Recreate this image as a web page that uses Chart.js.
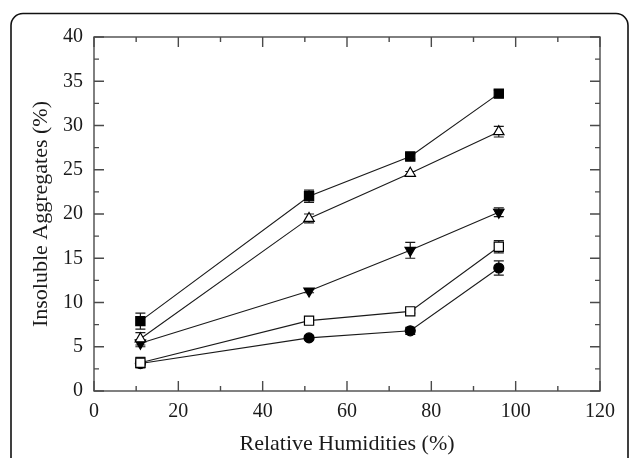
<!DOCTYPE html>
<html>
<head>
<meta charset="utf-8">
<script src="https://cdn.jsdelivr.net/npm/chart.js@4/dist/chart.umd.min.js"></script>
<style>
  html, body { margin: 0; padding: 0; background: #fff; }
  #wrap { width: 630px; height: 458px; position: relative; }
</style>
</head>
<body>
<div id="wrap"><canvas id="chart" width="630" height="458"></canvas></div>
<script>
// Humidités relatives (axe x)
const humidity = [11, 51, 75, 96];

// Séries (valeurs en %) et barres d'erreur
const squareFilled = [7.9, 22.0, 26.5, 33.6];
const squareFilledErr = [0.9, 0.7, 0.3, 0.4];
const triangleOpen = [5.9, 19.5, 24.6, 29.3];
const triangleOpenErr = [0.7, 0.5, 0.2, 0.6];
const triangleDownFilled = [5.4, 11.3, 15.9, 20.2];
const triangleDownFilledErr = [0.4, 0.2, 0.9, 0.5];
const squareOpen = [3.2, 7.95, 9.0, 16.3];
const squareOpenErr = [0.6, 0.2, 0.2, 0.7];
const circleFilled = [3.1, 6.0, 6.8, 13.9];
const circleFilledErr = [0.4, 0.2, 0.4, 0.8];

const xTitle = 'Relative Humidities (%)';
const yTitle = 'Insoluble Aggregates (%)';

const ink = '#1a1a1a';
const axisInk = '#4a4a4a';
const font = 'Liberation Serif';

const toPoints = (ys) => humidity.map((x, i) => ({ x, y: ys[i] }));

const makeSet = (ys, errs, style, filled, radius, rotation) => ({
  data: toPoints(ys),
  errors: errs,
  showLine: true,
  tension: 0,
  borderColor: ink,
  borderWidth: 1.1,
  pointStyle: style,
  pointRotation: rotation || 0,
  pointRadius: radius,
  pointHoverRadius: radius,
  pointBackgroundColor: filled ? '#000' : '#fff',
  pointBorderColor: '#000',
  pointBorderWidth: 1.2
});

// Barres d'erreur dessinées sous les marqueurs
const errorBars = {
  id: 'errorBars',
  beforeDatasetsDraw(chart) {
    const { ctx, scales: { x, y } } = chart;
    ctx.save();
    ctx.strokeStyle = ink;
    ctx.lineWidth = 1.2;
    chart.data.datasets.forEach((ds) => {
      ds.data.forEach((p, i) => {
        const e = ds.errors[i];
        const px = x.getPixelForValue(p.x);
        const top = y.getPixelForValue(p.y + e);
        const bot = y.getPixelForValue(p.y - e);
        ctx.beginPath();
        ctx.moveTo(px, top); ctx.lineTo(px, bot);
        ctx.moveTo(px - 5, top); ctx.lineTo(px + 5, top);
        ctx.moveTo(px - 5, bot); ctx.lineTo(px + 5, bot);
        ctx.stroke();
      });
    });
    ctx.restore();
  }
};

// Cadre, graduations intérieures (majeures + mineures) et bordure arrondie
const frame = {
  id: 'frame',
  beforeDraw(chart) {
    const { ctx } = chart;
    ctx.save();
    ctx.strokeStyle = '#111';
    ctx.lineWidth = 1.6;
    ctx.beginPath();
    ctx.roundRect(11, 13.5, 617, 470, 12);
    ctx.stroke();
    ctx.restore();
  },
  afterDraw(chart) {
    const { ctx, chartArea: a, scales: { x, y } } = chart;
    ctx.save();
    ctx.strokeStyle = axisInk;
    ctx.lineWidth = 1.4;
    ctx.strokeRect(a.left, a.top, a.right - a.left, a.bottom - a.top);

    const marks = (scale) => {
      const vals = scale.ticks.map(t => t.value);
      const out = vals.map(v => ({ v, len: 10 }));
      for (let i = 0; i < vals.length - 1; i++) {
        out.push({ v: (vals[i] + vals[i + 1]) / 2, len: 5 });
      }
      return out;
    };
    ctx.beginPath();
    marks(x).forEach(({ v, len }) => {
      const px = x.getPixelForValue(v);
      ctx.moveTo(px, a.bottom); ctx.lineTo(px, a.bottom - len);
      ctx.moveTo(px, a.top); ctx.lineTo(px, a.top + len);
    });
    marks(y).forEach(({ v, len }) => {
      const py = y.getPixelForValue(v);
      ctx.moveTo(a.left, py); ctx.lineTo(a.left + len, py);
      ctx.moveTo(a.right, py); ctx.lineTo(a.right - len, py);
    });
    ctx.stroke();
    ctx.restore();
  }
};

new Chart(document.getElementById('chart'), {
  type: 'scatter',
  data: {
    datasets: [
      makeSet(squareFilled, squareFilledErr, 'rect', true, 6.5),
      makeSet(triangleOpen, triangleOpenErr, 'triangle', false, 6),
      makeSet(triangleDownFilled, triangleDownFilledErr, 'triangle', true, 6, 180),
      makeSet(squareOpen, squareOpenErr, 'rect', false, 6.5),
      makeSet(circleFilled, circleFilledErr, 'circle', true, 5)
    ]
  },
  options: {
    responsive: false,
    animation: false,
    layout: { padding: { left: 0, top: 37, right: 30, bottom: 0 } },
    plugins: {
      legend: { display: false },
      tooltip: { enabled: false }
    },
    scales: {
      x: {
        type: 'linear',
        min: 0, max: 120,
        afterFit: (s) => { s.height = 67; },
        grid: { display: false, drawTicks: false },
        border: { display: false },
        ticks: { stepSize: 20, padding: 9, color: ink, font: { family: font, size: 20 } },
        title: { display: true, text: xTitle, color: ink, padding: { top: 0, bottom: 1 }, font: { family: font, size: 22 } }
      },
      y: {
        type: 'linear',
        min: 0, max: 40,
        afterFit: (s) => { s.width = 94; },
        grid: { display: false, drawTicks: false },
        border: { display: false },
        ticks: { stepSize: 5, padding: 11, color: ink, font: { family: font, size: 20 } },
        title: { display: true, text: yTitle, color: ink, padding: { top: 28, bottom: 0 }, font: { family: font, size: 22 } }
      }
    }
  },
  plugins: [errorBars, frame]
});
</script>
</body>
</html>
